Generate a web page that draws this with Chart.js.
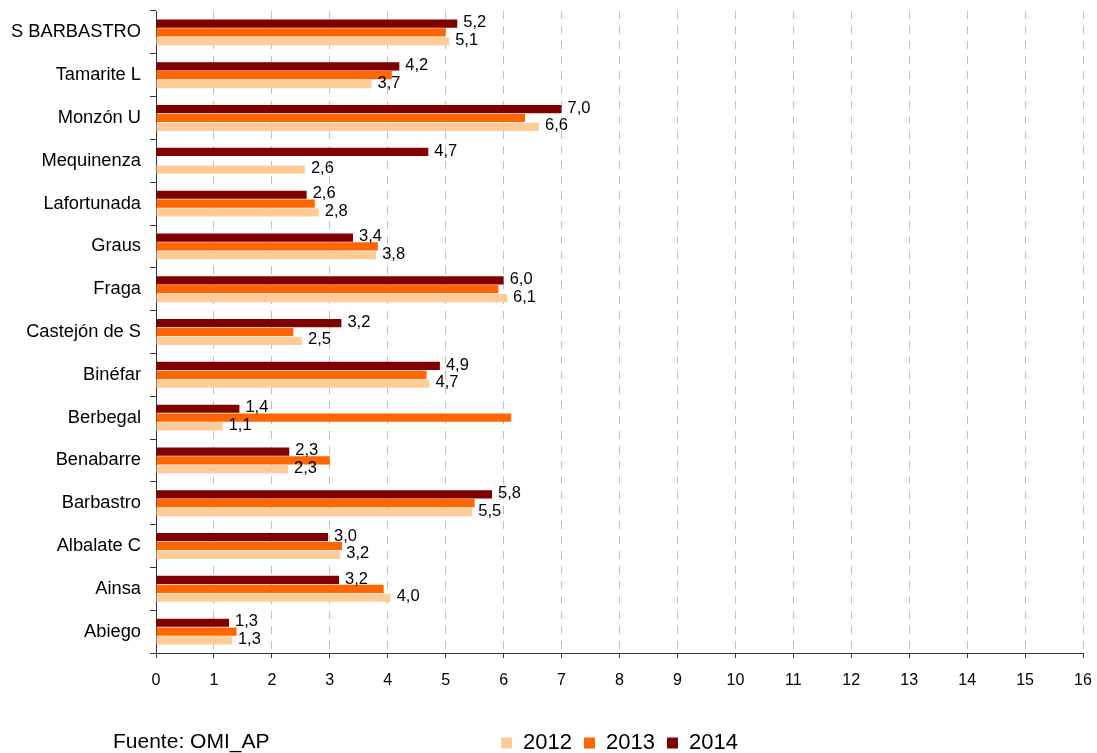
<!DOCTYPE html>
<html>
<head>
<meta charset="utf-8">
<title>OMI_AP</title>
<script src="https://cdn.jsdelivr.net/npm/chart.js@4/dist/chart.umd.min.js"></script>
<style>
    html, body { margin: 0; padding: 0; background: #fff; }
    #chart { display: block; }
</style>
</head>
<body>
<canvas id="chart" width="1097" height="753"></canvas>
<script>
var categories = ['S BARBASTRO', 'Tamarite L', 'Monzón U', 'Mequinenza', 'Lafortunada', 'Graus', 'Fraga',
    'Castejón de S', 'Binéfar', 'Berbegal', 'Benabarre', 'Barbastro', 'Albalate C', 'Ainsa', 'Abiego'];

var values2014 = [5.2, 4.2, 7.0, 4.7, 2.6, 3.4, 6.0, 3.2, 4.9, 1.44, 2.3, 5.8, 2.97, 3.16, 1.26];
var values2013 = [5.0, 4.07, 6.37, null, 2.74, 3.83, 5.91, 2.37, 4.67, 6.13, 3.0, 5.5, 3.21, 3.93, 1.39];
var values2012 = [5.06, 3.72, 6.61, 2.57, 2.81, 3.8, 6.06, 2.52, 4.72, 1.15, 2.28, 5.46, 3.18, 4.05, 1.31];

var xTicks = [0, 1, 2, 3, 4, 5, 6, 7, 8, 9, 10, 11, 12, 13, 14, 15, 16];
var source = 'Fuente: OMI_AP';

var FONT = '"Liberation Sans", Arial, Helvetica, sans-serif';

function formatValue(v) {
    return v.toFixed(1).replace('.', ',');
}

// values next to the 2014 and 2012 bars
var barLabels = {
    id: 'barLabels',
    afterDatasetsDraw: function (chart) {
        var ctx = chart.ctx;
        ctx.save();
        ctx.font = '16.5px ' + FONT;
        ctx.fillStyle = '#000';
        ctx.textAlign = 'left';
        ctx.textBaseline = 'middle';
        chart.data.datasets.forEach(function (ds, i) {
            if (!ds.showLabels) {
                return;
            }
            chart.getDatasetMeta(i).data.forEach(function (bar, j) {
                var v = ds.data[j];
                if (v == null) {
                    return;
                }
                ctx.fillText(formatValue(v), bar.x + 6, bar.y - 1);
            });
        });
        ctx.restore();
    }
};

var sourceNote = {
    id: 'sourceNote',
    afterDraw: function (chart) {
        var ctx = chart.ctx;
        ctx.save();
        ctx.font = '21px ' + FONT;
        ctx.fillStyle = '#000';
        ctx.textAlign = 'left';
        ctx.textBaseline = 'middle';
        ctx.fillText(source, 113, 742);
        ctx.restore();
    }
};

new Chart(document.getElementById('chart'), {
    type: 'bar',
    data: {
        labels: categories,
        datasets: [
            { label: '2014', data: values2014, backgroundColor: '#800000', showLabels: true },
            { label: '2013', data: values2013, backgroundColor: '#FF6600', showLabels: false },
            { label: '2012', data: values2012, backgroundColor: '#FFCC99', showLabels: true }
        ]
    },
    options: {
        indexAxis: 'y',
        responsive: false,
        animation: false,
        devicePixelRatio: 1,
        categoryPercentage: 0.62,
        barPercentage: 0.93,
        layout: {
            padding: { top: 11, right: 14, left: 0, bottom: -11 }
        },
        scales: {
            x: {
                min: 0,
                max: 16,
                afterBuildTicks: function (scale) {
                    scale.ticks = xTicks.map(function (v) { return { value: v }; });
                },
                afterFit: function (scale) {
                    scale.height = 67;
                    scale.paddingLeft = 0;
                    scale.paddingRight = 0;
                },
                grid: {
                    color: '#c0c0c0',
                    tickColor: '#333',
                    tickLength: 5,
                    lineWidth: 1
                },
                border: {
                    color: '#333',
                    dash: [8, 7]
                },
                ticks: {
                    color: '#000',
                    padding: 13,
                    font: { family: FONT, size: 16 },
                    maxRotation: 0
                }
            },
            y: {
                afterFit: function (scale) {
                    scale.width = 156;
                    scale.paddingTop = 0;
                    scale.paddingBottom = 0;
                },
                grid: {
                    drawOnChartArea: false,
                    tickColor: '#333',
                    tickLength: 6
                },
                border: {
                    color: '#333'
                },
                ticks: {
                    color: '#000',
                    padding: 9,
                    font: { family: FONT, size: 18.3 }
                }
            }
        },
        plugins: {
            legend: {
                position: 'bottom',
                fullSize: false,
                reverse: true,
                labels: {
                    boxWidth: 11,
                    boxHeight: 11,
                    padding: 12,
                    color: '#000',
                    font: { family: FONT, size: 22 }
                }
            },
            tooltip: { enabled: false }
        }
    },
    plugins: [barLabels, sourceNote]
});
</script>
</body>
</html>
